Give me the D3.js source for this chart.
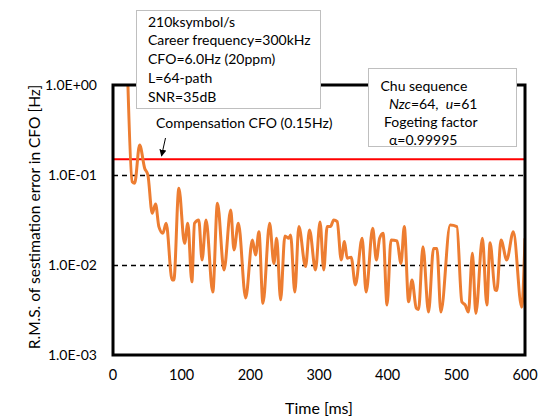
<!DOCTYPE html>
<html>
<head>
<meta charset="utf-8">
<script src="https://cdn.jsdelivr.net/npm/d3@7"></script>
<style>
  body { margin: 0; background: #fff; }
  text { font-family: Lato, "Noto Sans", sans-serif; fill: #000; white-space: pre; }
</style>
</head>
<body>
<svg id="chart" width="543" height="419"></svg>
<script>
// values (time in ms, rms error in Hz)
var times = [20, 28, 31.5, 38.8, 46.1, 50.8, 57.1, 62, 66.8, 72.6, 77.4, 86.1, 88.6, 95.9, 104.2, 109, 114.8, 118.7,
  124.9, 129.7, 135.5, 145.3, 152.1, 161.7, 171.4, 176.2, 182.6, 193.2, 203, 207.7, 212.5, 218.4, 228.1, 234.3,
  238.3, 244.1, 250.3, 256.1, 258.6, 264.8, 270.7, 280.4, 286.2, 294.9, 301.5, 306.9, 311.9, 316.7, 321.5, 326.5,
  332.3, 337.1, 341, 346.8, 353, 362.8, 368.6, 378.2, 383.5, 388.3, 393.3, 399.1, 404.9, 413.6, 419.4, 424.2,
  430.5, 435.4, 441.7, 445, 451.4, 459.5, 466.8, 471.7, 477.5, 491, 500.8, 508, 512.8, 517.6, 523.4, 528.4,
  538, 544.4, 549.2, 556.4, 558.9, 565.1, 573.4, 583, 595.2, 600];
var errors = [3, 0.084, 0.081, 0.215, 0.119, 0.1, 0.0375, 0.0476, 0.0267, 0.0225, 0.0291, 0.0068, 0.0068, 0.0711,
  0.0174, 0.0291, 0.0065, 0.0291, 0.0316, 0.0114, 0.0316, 0.005, 0.0485, 0.0088, 0.0408, 0.0147, 0.0291, 0.0043,
  0.019, 0.0129, 0.0234, 0.00375, 0.0291, 0.0104, 0.0198, 0.0041, 0.021, 0.0198, 0.0216, 0.005, 0.0267, 0.0096,
  0.0245, 0.0088, 0.0301, 0.0088, 0.0267, 0.0267, 0.0316, 0.0303, 0.0114, 0.0182, 0.0119, 0.0122, 0.006, 0.0198,
  0.005, 0.0256, 0.0114, 0.0198, 0.0225, 0.0036, 0.019, 0.0185, 0.0104, 0.0267, 0.0039, 0.0068, 0.0033, 0.0032,
  0.016, 0.003, 0.0153, 0.0153, 0.003, 0.0278, 0.0267, 0.0039, 0.0036, 0.003, 0.0135, 0.0029, 0.0198, 0.0036,
  0.0177, 0.0053, 0.0052, 0.019, 0.0114, 0.0234, 0.0034, 0.0198];
var compensation = 0.15;
var yTicks = [1, 0.1, 0.01, 0.001];
var yTickLabels = ["1.0E+00", "1.0E-01", "1.0E-02", "1.0E-03"];
var gridValues = [0.1, 0.01];
var xTicks = [0, 100, 200, 300, 400, 500, 600];
var paramLines = ["210ksymbol/s", "Career frequency=300kHz", "CFO=6.0Hz (20ppm)", "L=64-path", "SNR=35dB"];

var svg = d3.select("#chart");
var pLeft = 113, pRight = 525, pTop = 85, pBottom = 355;

var x = d3.scaleLinear().domain([0, 600]).range([pLeft, pRight]);
var y = d3.scaleLog().domain([0.001, 1]).range([pBottom, pTop]);

var defs = svg.append("defs");
defs.append("clipPath").attr("id", "plotclip")
  .append("rect").attr("x", pLeft).attr("y", pTop).attr("width", pRight - pLeft).attr("height", pBottom - pTop);

// dashed grid
svg.selectAll(".grid").data(gridValues).enter().append("line")
  .attr("x1", pLeft).attr("x2", pRight)
  .attr("y1", function(d) { return y(d) + 0.5; }).attr("y2", function(d) { return y(d) + 0.5; })
  .attr("stroke", "#000").attr("stroke-width", 1.4).attr("stroke-dasharray", "5,4");

// red compensation line
svg.append("line")
  .attr("x1", pLeft).attr("x2", pRight)
  .attr("y1", y(compensation)).attr("y2", y(compensation))
  .attr("stroke", "#ff0000").attr("stroke-width", 2);

// error curve
var line = d3.line()
  .x(function(d, i) { return x(times[i]); })
  .y(function(d) { return y(d); })
  .curve(d3.curveMonotoneX);

svg.append("path")
  .attr("clip-path", "url(#plotclip)")
  .attr("d", line(errors))
  .attr("fill", "none")
  .attr("stroke", "#ed7d31")
  .attr("stroke-width", 3)
  .attr("stroke-linejoin", "round");

// frame
svg.append("rect")
  .attr("x", pLeft).attr("y", pTop).attr("width", pRight - pLeft).attr("height", pBottom - pTop)
  .attr("fill", "none").attr("stroke", "#000").attr("stroke-width", 3);

// y tick labels
svg.selectAll(".ylab").data(yTicks).enter().append("text")
  .attr("x", 97).attr("y", function(d) { return y(d); })
  .attr("dy", "0.35em").attr("text-anchor", "end")
  .style("font-size", "14px")
  .text(function(d, i) { return yTickLabels[i]; });

// x tick labels
svg.selectAll(".xlab").data(xTicks).enter().append("text")
  .attr("x", function(d) { return x(d); }).attr("y", 375)
  .attr("dy", "0.35em").attr("text-anchor", "middle")
  .style("font-size", "14.5px")
  .text(function(d) { return d; });

svg.append("text")
  .attr("x", x(300)).attr("y", 408).attr("dy", "0.35em").attr("text-anchor", "middle")
  .style("font-size", "16px").text("Time [ms]");

svg.append("text")
  .attr("transform", "translate(35," + 217 + ") rotate(-90)")
  .attr("dy", "0.35em").attr("text-anchor", "middle")
  .style("font-size", "15.5px").text("R.M.S. of sestimation error in CFO [Hz]");

// annotation
defs.append("marker").attr("id", "arrow")
  .attr("viewBox", "0 0 10 10").attr("refX", 9).attr("refY", 5)
  .attr("markerWidth", 7).attr("markerHeight", 7).attr("orient", "auto")
  .append("path").attr("d", "M0,0 L10,5 L0,10 z").attr("fill", "#000");

svg.append("line")
  .attr("x1", 165.5).attr("y1", 138).attr("x2", 161.5).attr("y2", 156)
  .attr("stroke", "#000").attr("stroke-width", 1).attr("marker-end", "url(#arrow)");

svg.append("text")
  .attr("x", 156).attr("y", 123).attr("dy", "0.35em")
  .style("font-size", "14px").text("Compensation CFO (0.15Hz)");

// parameter box
svg.append("rect")
  .attr("x", 136.5).attr("y", 10.5).attr("width", 184).attr("height", 98)
  .attr("fill", "#fff").attr("stroke", "#bfbfbf").attr("stroke-width", 1);

svg.selectAll(".param").data(paramLines).enter().append("text")
  .attr("x", 148).attr("y", function(d, i) { return 21.7 + i * 18.75; })
  .attr("dy", "0.35em").style("font-size", "14px")
  .text(function(d) { return d; });

// chu sequence box
svg.append("rect")
  .attr("x", 368.5).attr("y", 68.5).attr("width", 148).attr("height", 78)
  .attr("fill", "#fff").attr("stroke", "#bfbfbf").attr("stroke-width", 1);

var chu = svg.append("g").style("font-size", "14px");
chu.append("text").attr("x", 380.5).attr("y", 86).attr("dy", "0.35em").text("Chu sequence");
var t2 = chu.append("text").attr("x", 389).attr("y", 104).attr("dy", "0.35em");
t2.append("tspan").style("font-style", "italic").text("Nzc");
t2.append("tspan").text("=64,  ");
t2.append("tspan").style("font-style", "italic").text("u");
t2.append("tspan").text("=61");
chu.append("text").attr("x", 384).attr("y", 122).attr("dy", "0.35em").text("Fogeting factor");
chu.append("text").attr("x", 389).attr("y", 140).attr("dy", "0.35em").text("α=0.99995");
</script>
</body>
</html>
